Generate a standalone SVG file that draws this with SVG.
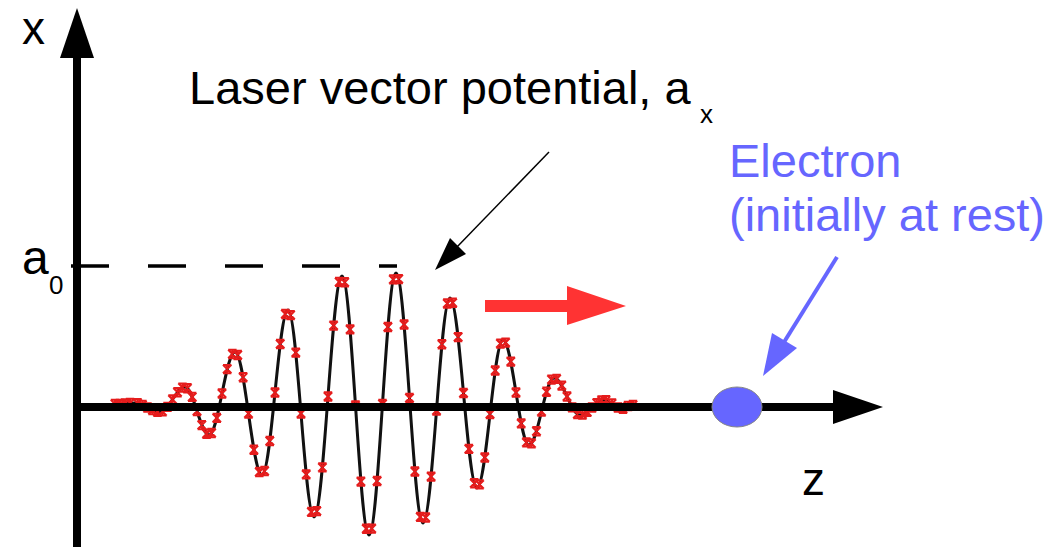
<svg xmlns="http://www.w3.org/2000/svg" width="1051" height="547" viewBox="0 0 1051 547">
<style>
  .t { font-family: "Liberation Sans", Arial, sans-serif; fill: #000; }
  .blue { fill: #6666ff; }
  .axis { stroke: #000; stroke-width: 8; fill: none; }
</style>
<defs>
  <marker id="mk" markerUnits="userSpaceOnUse" markerWidth="12" markerHeight="12" refX="6" refY="6" orient="0" overflow="visible">
    <path d="M1.8,1.8 L10.2,10.2 M1.8,10.2 L10.2,1.8 M1.8,1.8 L10.2,1.8 M1.8,10.2 L10.2,10.2 M6,1.8 L6,10.2" stroke="#e51c1c" stroke-width="2" fill="none"/>
  </marker>
</defs>
<rect width="1051" height="547" fill="#fff"/>

<g id="waveform">
  <path fill="none" stroke="#111" stroke-width="3" d="M115,404 C120,404 130,403 135,403 C144.1,403 150.9,412 160,412 C169.1,412 175.9,387 185,387 C193.7,387 200.3,435 209,435 C218.4,435 225.6,352 235,352 C244.8,352 252.2,475 262,475 C271.4,475 278.6,310 288,310 C297.4,310 304.6,517 314,517 C324.2,517 331.8,276 342,276 C351.8,276 359.2,535 369,535 C378.8,535 386.2,273 396,273 C405.8,273 413.2,523 423,523 C432.8,523 440.2,298 450,298 C459.8,298 467.2,488 477,488 C486.4,488 493.6,340 503,340 C512.4,340 519.6,445 529,445 C538.1,445 544.9,378 554,378 C563.4,378 570.6,415 580,415 C588.7,415 595.3,400 604,400 C610.5,400 615.5,409 622,409 C627,409 630,406 635,406"/>
  <polyline fill="none" stroke="none" marker-start="url(#mk)" marker-mid="url(#mk)" marker-end="url(#mk)" points="115,404 120,404 125,403.5 130,403 137.5,403.2 142.5,404.9 147.5,407.5 152.5,410.1 157.5,411.8 162.5,411.4 167.5,406.9 172.5,399.5 177.5,392.2 182.5,387.6 187.4,388.2 192.2,396.9 197,411 201.8,425.1 206.6,433.8 211.6,433 216.8,417.9 222,393.5 227.2,369.1 232.4,354 237.7,355 243.1,377.3 248.5,413.5 253.9,449.7 259.3,472 264.6,471 269.8,441 275,392.5 280.2,344 285.4,314 290.6,315.1 295.8,352.6 301,413.5 306.2,474.4 311.4,511.9 316.8,511.1 322.4,467.4 328,396.5 333.6,325.6 339.2,281.9 344.7,282.3 350.1,329.4 355.5,405.5 360.9,481.6 366.3,528.7 371.7,528.6 377.1,481 382.5,404 387.9,327 393.3,279.4 398.7,279.1 404.1,324.5 409.5,398 414.9,471.5 420.3,516.9 425.7,517.5 431.1,476.6 436.5,410.5 441.9,344.3 447.3,303.5 452.7,302.7 458.1,337.1 463.5,393 468.9,448.9 474.3,483.3 479.6,484.4 484.8,457.5 490,414 495.2,370.5 500.4,343.6 505.6,342.6 510.8,361.6 516,392.5 521.2,423.4 526.4,442.4 531.5,443.4 536.5,431.2 541.5,411.5 546.5,391.8 551.5,379.6 556.6,378.9 561.8,385.6 567,396.5 572.2,407.4 577.4,414.1 582.4,414.6 587.2,411.9 592,407.5 596.8,403.1 601.6,400.4 606,400.3 612,403.5 618,407.5 623,408.8 628,406 633,405"/>
</g>

<g id="a0-level">
  <line x1="71" y1="266" x2="397" y2="266" stroke="#000" stroke-width="3.5" stroke-dasharray="38 39"/>
</g>

<g id="axes">
  <line class="axis" x1="77" y1="547" x2="77" y2="56"/>
  <polygon points="77,8 60,58 94,58" fill="#000"/>
  <line class="axis" x1="77" y1="407" x2="835" y2="407"/>
  <polygon points="883,407 833,390 833,424" fill="#000"/>
</g>

<g id="electron">
  <ellipse cx="737" cy="407" rx="25" ry="20" fill="#6666ff" stroke="#888" stroke-width="1"/>
</g>

<g id="connectors">
  <line x1="549" y1="152" x2="456" y2="248" stroke="#000" stroke-width="1.5"/>
  <polygon points="435,270 450,238 466,254" fill="#000"/>
  <line x1="837" y1="257" x2="781" y2="347" stroke="#6666ff" stroke-width="4"/>
  <polygon points="763,376 772,333 797,348" fill="#6666ff"/>
  <polygon points="485,300 567,300 567,286 626,306 567,325 567,312 485,312" fill="#ff3333"/>
</g>

<g id="labels">
  <text class="t" x="22" y="44" font-size="46">x</text>
  <text class="t" x="189" y="104" font-size="47">Laser vector potential, a</text>
  <text class="t" x="700" y="123" font-size="26">x</text>
  <text class="t" x="22" y="274" font-size="48">a</text>
  <text class="t" x="49" y="294" font-size="26">0</text>
  <text class="t" x="802" y="495" font-size="46">z</text>
  <text class="t blue" x="729" y="177" font-size="47">Electron</text>
  <text class="t blue" x="729" y="231" font-size="47">(initially at rest)</text>
</g>
</svg>
